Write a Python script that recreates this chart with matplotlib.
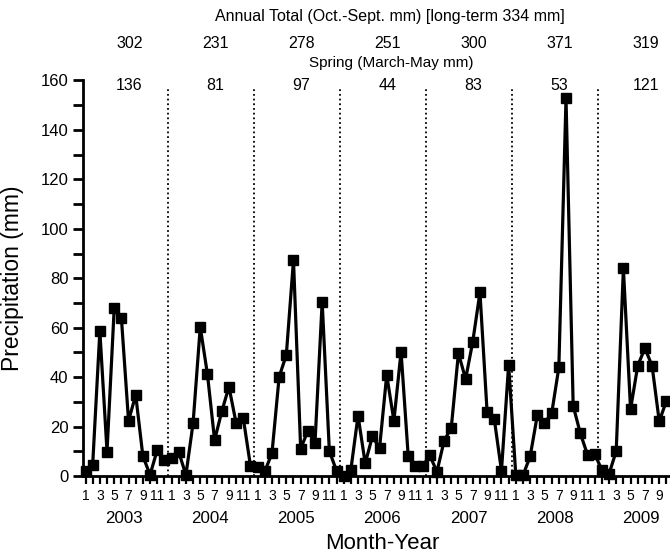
import matplotlib.pyplot as plt
from matplotlib.transforms import blended_transform_factory

plt.rcParams['font.family'] = ['Liberation Sans', 'DejaVu Sans']

years = [2003, 2004, 2005, 2006, 2007, 2008, 2009]
annual_totals = [302, 231, 278, 251, 300, 371, 319]
spring_totals = [136, 81, 97, 44, 83, 53, 121]

# monthly precipitation (mm), Jan 2003 - Oct 2009
precip = [
    2.1, 4.6, 58.6, 9.9, 67.8, 64.1, 22.3, 32.8, 8.0, 0.5, 10.5, 6.6,      # 2003
    7.2, 9.7, 0.4, 21.4, 60.3, 41.2, 14.5, 26.1, 36.1, 21.4, 23.4, 4.1,    # 2004
    3.5, 1.9, 9.2, 40.1, 49.0, 87.3, 11.1, 18.2, 13.5, 70.5, 10.1, 2.1,    # 2005
    0.1, 2.5, 24.4, 5.1, 16.0, 11.3, 40.9, 22.3, 50.3, 7.9, 4.1, 3.9,      # 2006
    8.4, 1.7, 14.2, 19.5, 49.7, 39.2, 54.4, 74.3, 25.7, 23.0, 2.1, 45.0,   # 2007
    0.3, 0.3, 7.9, 24.6, 21.4, 25.3, 43.9, 152.8, 28.4, 17.2, 8.6, 8.8,    # 2008
    2.5, 0.8, 10.1, 84.0, 27.0, 44.6, 51.7, 44.6, 22.1, 30.4,              # 2009
]

idx = list(range(len(precip)))
months = [i % 12 + 1 for i in idx]

W, H = 670, 555
fig = plt.figure(figsize=(W / 100, H / 100), dpi=100)
ax = fig.add_axes([83 / W, 1 - 476 / H, (W - 83) / W, (476 - 80.5) / H])

ax.plot(idx, precip, color='black', linewidth=2.3, marker='s', markersize=6.5,
        clip_on=False, zorder=3)

# dotted separators between years
bounds = [12 * k + 11.5 for k in range(len(years) - 1)]
ax.vlines(bounds, 0, 157.5, colors='black', linestyles=(0, (1, 1.6)), linewidth=1.3)

ax.set_xlim(-0.35, 81.5)
ax.set_ylim(0, 160)
ax.set_xticks(idx, [str(m) if m % 2 == 1 else '' for m in months], fontsize=10)
ax.set_yticks(range(0, 161, 20))
ax.set_yticks(range(10, 160, 20), minor=True)
ax.tick_params(axis='y', which='both', direction='out', length=7, width=2, labelsize=12)
ax.tick_params(axis='x', direction='out', length=5.5, width=1.6, pad=3.5)
for s in ['top', 'right']:
    ax.spines[s].set_visible(False)
ax.spines['left'].set_linewidth(2)
ax.spines['bottom'].set_linewidth(2)

for k, yr in enumerate(years):
    ax.text(12 * k + 5.4, -0.107, str(yr), transform=ax.get_xaxis_transform(),
            ha='center', va='center', fontsize=12.2)

ax.set_ylabel('Precipitation (mm)', fontsize=16.5)
ax.yaxis.set_label_coords(-0.1, 0.5)
fig.text(382 / W, 1 - 549 / H, 'Month-Year', ha='center', va='baseline', fontsize=16)

fig.text(390 / W, 1 - 17 / H, 'Annual Total (Oct.-Sept. mm) [long-term 334 mm]',
         ha='center', va='center', fontsize=11.5)
fig.text(391 / W, 1 - 63 / H, 'Spring (March-May mm)', ha='center', va='center', fontsize=11)
top_tr = blended_transform_factory(ax.transData, fig.transFigure)
for k in range(len(years)):
    ax.text(12 * k + 6.1, 1 - 43 / H, str(annual_totals[k]), transform=top_tr,
            ha='center', va='center', fontsize=11.5)
    ax.text(12 * k + 6.1, 1 - 85 / H, str(spring_totals[k]), transform=top_tr,
            ha='center', va='center', fontsize=11.5)

fig.savefig('out.png', dpi=100)
